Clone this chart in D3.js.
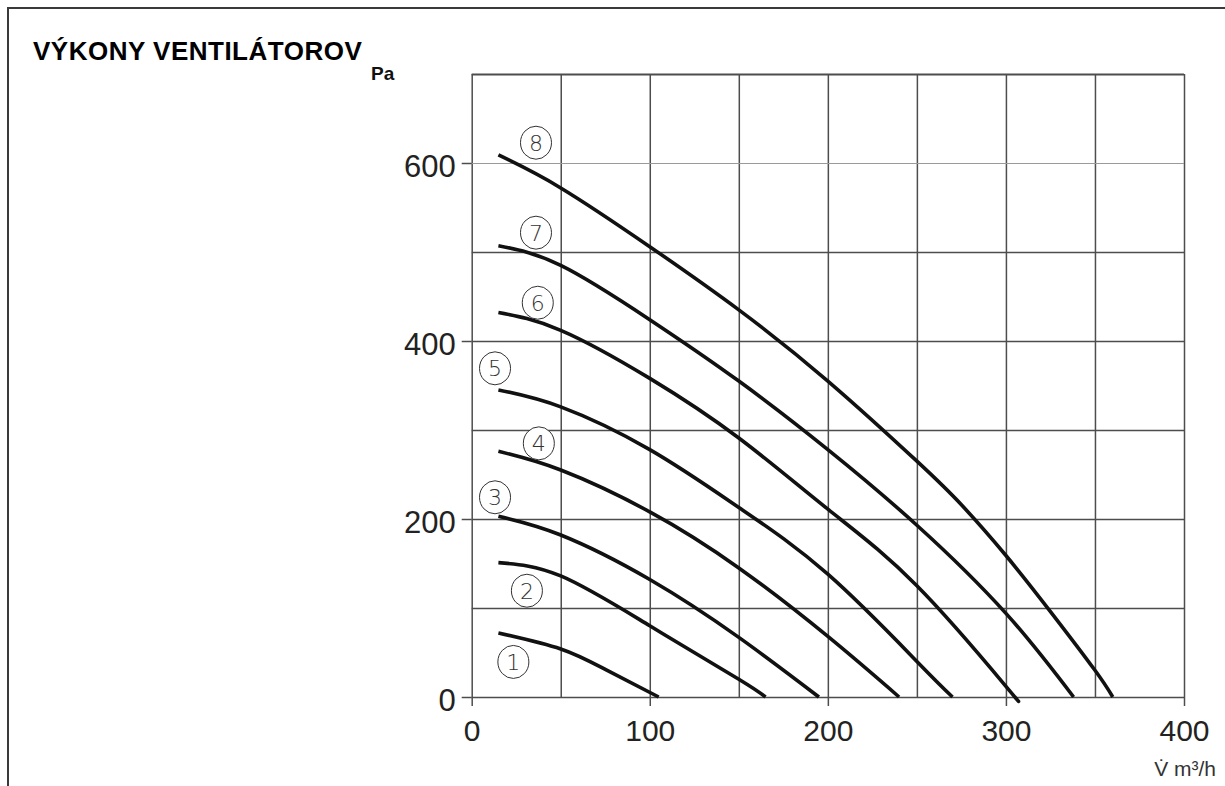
<!DOCTYPE html>
<html lang="sk">
<head>
<meta charset="utf-8">
<title>Výkony ventilátorov</title>
<script src="https://cdn.jsdelivr.net/npm/d3@7"></script>
<style>
    html, body { margin: 0; padding: 0; background: #fff; }
    svg { display: block; }
</style>
</head>
<body>
<div id="chart"></div>
<script>
// Datos de las curvas (prietok m3/h, tlak Pa)
const flowPoints = [
    [15, 50, 75, 105],
    [15, 50, 100, 150, 165],
    [15, 50, 100, 150, 195],
    [15, 50, 100, 150, 200, 240],
    [15, 50, 100, 150, 200, 250, 270],
    [15, 50, 100, 150, 200, 250, 300, 305],
    [15, 50, 100, 150, 200, 250, 300, 338],
    [15, 50, 100, 150, 200, 250, 275, 300, 325, 350, 360]
];
const pressurePoints = [
    [72, 54, 31, 0],
    [151, 136, 80, 20, 0],
    [203, 182, 132, 67, 0],
    [276, 255, 208, 145, 68, 0],
    [345, 326, 278, 213, 138, 40, 0],
    [432, 412, 358, 291, 211, 125, 12, 0],
    [507, 485, 424, 355, 278, 193, 94, 0],
    [609, 572, 506, 435, 355, 265, 216, 159, 96, 30, 0]
];

// Etiquetas circulares de cada curva
const curveNames = ["1", "2", "3", "4", "5", "6", "7", "8"];
const labelFlow = [23.4, 31, 13.1, 37.7, 13.1, 37.1, 36.1, 36.1];
const labelPressure = [39.4, 119.4, 224.4, 285, 369.3, 443, 521.7, 622.8];

// Ticks de los ejes
const xGridValues = [0, 50, 100, 150, 200, 250, 300, 350, 400];
const xTickValues = [0, 100, 200, 300, 400];
const yGridValues = [0, 100, 200, 300, 400, 500, 600, 700];
const yTickValues = [0, 200, 400, 600];

const titleText = "VÝKONY VENTILÁTOROV";
const yUnit = "Pa";
const xUnit = "V\u0307 m³/h";

////////////////////////////////////////////////////////////////////////////////////////////////////
const width = 1225, height = 786;
const plot = { left: 471.7, right: 1184, top: 74, bottom: 697 };

const svg = d3.select("#chart").append("svg")
    .attr("width", width)
    .attr("height", height)
    .style("font-family", "'Liberation Sans', Arial, sans-serif");

const x = d3.scaleLinear().domain([0, 400]).range([plot.left, plot.right]);
const y = d3.scaleLinear().domain([0, 700]).range([plot.bottom, plot.top]);

// Marco de la página (solo arriba e izquierda)
svg.append("path")
    .attr("d", `M8,${height} L8,8 L${width},8`)
    .attr("fill", "none")
    .attr("stroke", "#3a3a3a")
    .attr("stroke-width", 2);

// Título y unidad del eje Y
svg.append("text")
    .attr("x", 33)
    .attr("y", 60)
    .attr("font-size", 26)
    .attr("font-weight", "bold")
    .attr("letter-spacing", 0.5)
    .attr("fill", "#000")
    .text(titleText);

svg.append("text")
    .attr("x", 371)
    .attr("y", 80)
    .attr("font-size", 19)
    .attr("font-weight", "bold")
    .attr("fill", "#111")
    .text(yUnit);

////////////////////////////////////////////////////////////////////////////////////////////////////
// Rejilla vertical
svg.append("g")
    .attr("transform", `translate(0,${plot.bottom})`)
    .call(d3.axisBottom(x).tickValues(xGridValues).tickSize(-(plot.bottom - plot.top)).tickFormat(""))
    .call(g => g.select(".domain").remove())
    .call(g => g.selectAll(".tick line").attr("stroke", "#4d4d4d").attr("stroke-width", 1.5));

// Rejilla horizontal
svg.append("g")
    .attr("transform", `translate(${plot.left},0)`)
    .call(d3.axisLeft(y).tickValues(yGridValues).tickSize(-(plot.right - plot.left)).tickFormat(""))
    .call(g => g.select(".domain").remove())
    .call(g => g.selectAll(".tick line")
        .attr("stroke", d => d === 600 ? "#9a9a9a" : "#4d4d4d")
        .attr("stroke-width", d => d === 600 ? 1 : (d === 700 ? 1.8 : 1.5)));

// Eje X con etiquetas
const xAxis = svg.append("g")
    .attr("transform", `translate(0,${plot.bottom})`)
    .call(d3.axisBottom(x).tickValues(xTickValues).tickSizeInner(9).tickSizeOuter(0).tickPadding(14));
xAxis.select(".domain").remove();
xAxis.selectAll(".tick line").attr("stroke", "#4d4d4d").attr("stroke-width", 1.5);
xAxis.selectAll(".tick text")
    .attr("font-size", 30)
    .attr("font-family", "'Liberation Sans', Arial, sans-serif")
    .attr("fill", "#222");

// Eje Y con etiquetas
const yAxis = svg.append("g")
    .attr("transform", `translate(${plot.left},0)`)
    .call(d3.axisLeft(y).tickValues(yTickValues).tickSizeInner(10).tickSizeOuter(0).tickPadding(6));
yAxis.select(".domain").remove();
yAxis.selectAll(".tick line").attr("stroke", "#4d4d4d").attr("stroke-width", 1.5);
yAxis.selectAll(".tick text")
    .attr("font-size", 31)
    .attr("dy", "0.45em")
    .attr("font-family", "'Liberation Sans', Arial, sans-serif")
    .attr("fill", "#222");

// Unidad del eje X
svg.append("text")
    .attr("x", 1216)
    .attr("y", 776)
    .attr("text-anchor", "end")
    .attr("font-size", 21)
    .attr("fill", "#333")
    .text(xUnit);

////////////////////////////////////////////////////////////////////////////////////////////////////
// Curvas de los ventiladores
const line = d3.line()
    .x(d => x(d[0]))
    .y(d => y(d[1]))
    .curve(d3.curveNatural);

const curves = flowPoints.map((flows, i) => flows.map((f, j) => [f, pressurePoints[i][j]]));

svg.append("g")
    .selectAll("path")
    .data(curves)
    .enter().append("path")
    .attr("d", line)
    .attr("fill", "none")
    .attr("stroke", "#111")
    .attr("stroke-width", 3.6)
    .attr("stroke-linecap", "butt");

// Números en círculo
const labels = svg.append("g")
    .selectAll("g")
    .data(curveNames)
    .enter().append("g")
    .attr("transform", (d, i) => `translate(${x(labelFlow[i])},${y(labelPressure[i])})`);

labels.append("ellipse")
    .attr("rx", 15.5)
    .attr("ry", 16.5)
    .attr("fill", "#fff")
    .attr("stroke", "#333")
    .attr("stroke-width", 1);

labels.append("text")
    .attr("text-anchor", "middle")
    .attr("dy", "0.36em")
    .attr("font-size", 22)
    .attr("font-family", "'DejaVu Sans', sans-serif")
    .attr("font-weight", 200)
    .attr("fill", "#333")
    .text(d => d);
</script>
</body>
</html>
